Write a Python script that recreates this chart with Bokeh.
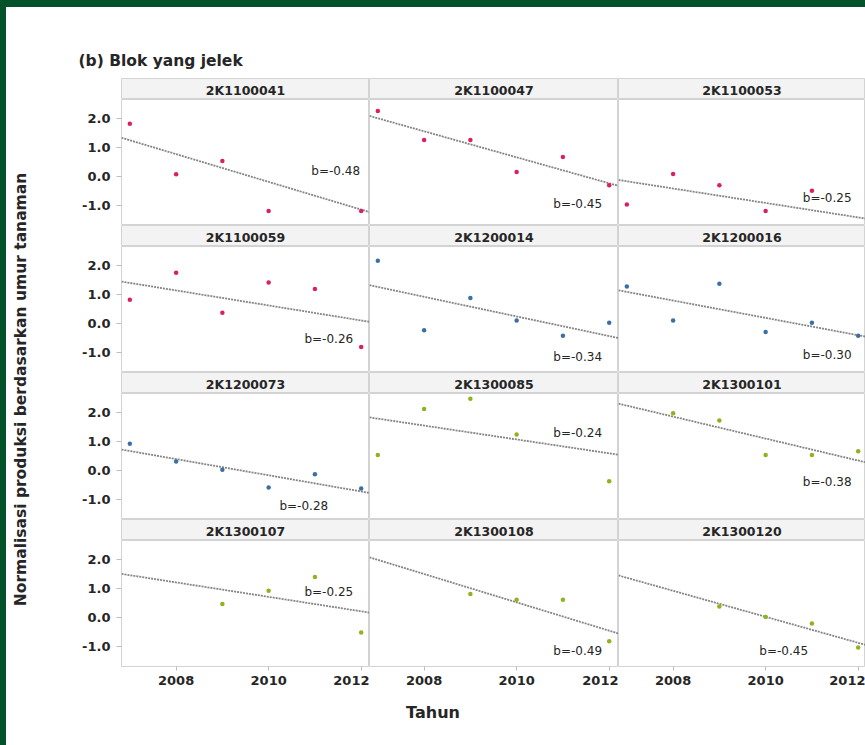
import math

from bokeh.embed import file_html
from bokeh.layouts import column, row
from bokeh.models import FixedTicker, Label, PrintfTickFormatter, Range1d
from bokeh.plotting import figure
from bokeh.resources import INLINE

# ---- data -----------------------------------------------------------------
panel_ids = [
    "2K1100041", "2K1100047", "2K1100053",
    "2K1100059", "2K1200014", "2K1200016",
    "2K1200073", "2K1300085", "2K1300101",
    "2K1300107", "2K1300108", "2K1300120",
]
# colour group of each block (by planting year)
panel_group = ["2011", "2011", "2011",
               "2011", "2012", "2012",
               "2012", "2013", "2013",
               "2013", "2013", "2013"]

years_41 = [2007, 2008, 2009, 2010, 2012]
vals_41 = [1.83, 0.08, 0.54, -1.19, -1.19]
years_47 = [2007, 2008, 2009, 2010, 2011, 2012]
vals_47 = [2.27, 1.27, 1.27, 0.16, 0.68, -0.30]
years_53 = [2007, 2008, 2009, 2010, 2011]
vals_53 = [-0.96, 0.09, -0.30, -1.19, -0.49]
years_59 = [2007, 2008, 2009, 2010, 2011, 2012]
vals_59 = [0.83, 1.76, 0.38, 1.42, 1.20, -0.81]
years_14 = [2007, 2008, 2009, 2010, 2011, 2012]
vals_14 = [2.18, -0.23, 0.89, 0.11, -0.42, 0.03]
years_16 = [2007, 2008, 2009, 2010, 2011, 2012]
vals_16 = [1.29, 0.11, 1.38, -0.29, 0.03, -0.42]
years_73 = [2007, 2008, 2009, 2010, 2011, 2012]
vals_73 = [0.93, 0.32, 0.03, -0.58, -0.12, -0.62]
years_85 = [2007, 2008, 2009, 2010, 2012]
vals_85 = [0.54, 2.13, 2.49, 1.25, -0.37]
years_101 = [2008, 2009, 2010, 2011, 2012]
vals_101 = [1.99, 1.74, 0.54, 0.54, 0.67]
years_107 = [2009, 2010, 2011, 2012]
vals_107 = [0.47, 0.93, 1.41, -0.51]
years_108 = [2009, 2010, 2011, 2012]
vals_108 = [0.82, 0.62, 0.62, -0.82]
years_120 = [2009, 2010, 2011, 2012]
vals_120 = [0.39, 0.02, -0.20, -1.03]

panel_years = [years_41, years_47, years_53, years_59, years_14, years_16,
               years_73, years_85, years_101, years_107, years_108, years_120]
panel_vals = [vals_41, vals_47, vals_53, vals_59, vals_14, vals_16,
              vals_73, vals_85, vals_101, vals_107, vals_108, vals_120]

# trend line of each block: slope b and fitted value in 2007
slopes = [-0.48, -0.45, -0.25, -0.26, -0.34, -0.30,
          -0.28, -0.24, -0.38, -0.25, -0.49, -0.45]
fit_2007 = [1.26, 2.02, -0.16, 1.41, 1.27, 1.10,
            0.68, 1.80, 2.25, 1.47, 2.00, 1.38]

year_ticks = [2008, 2010, 2012]
value_ticks = [-1.0, 0.0, 1.0, 2.0]

title_text = "(b) Blok yang jelek"
x_title = "Tahun"
y_title = "Normalisasi produksi berdasarkan umur tanaman"

# ---- layout & style -------------------------------------------------------
FONT = "DejaVu Sans"
TEXT = "#262626"
EDGE = "#d3d3d3"
STRIP_FILL = "#f3f3f3"
FRAME_GREEN = "#04522a"
group_colors = {"2011": "#dc1f62", "2012": "#3b6fa6", "2013": "#8db41f"}

PAGE_W = 865
EDGE_TOP = 7
EDGE_LEFT = 6
frame_widths = [248, 249, 247]
FRAME_H = 126
STRIP_H = 21
AXIS_W = 55
AXIS_H = 30
YLAB_W = 60
X_START = 2006.82
PX_PER_YEAR = 46.27
Y_RANGE = (-1.69, 2.67)

# placement of the "b=" annotation in each panel (year, value)
label_pos = [(2011.45, 0.20), (2011.32, -0.93), (2011.33, -0.73),
             (2011.30, -0.54), (2011.32, -1.16), (2011.33, -1.10),
             (2010.76, -1.24), (2011.32, 1.30), (2011.33, -0.39),
             (2011.30, 0.89), (2011.32, -1.17), (2010.39, -1.17)]


def blank(w, h):
    """Plain white canvas measured in pixels, y growing downward."""
    f = figure(width=w, height=h, output_backend="svg",
               toolbar_location=None, tools="", min_border=0,
               x_axis_location=None, y_axis_location=None,
               outline_line_color=None, background_fill_color="white",
               border_fill_color="white",
               x_range=Range1d(0, w), y_range=Range1d(h, 0))
    f.grid.visible = False
    return f


def strip(name, c):
    left = AXIS_W if c == 0 else 0
    f = figure(width=frame_widths[c] + left, height=STRIP_H, output_backend="svg",
               toolbar_location=None, tools="", min_border=0, min_border_left=left,
               x_axis_location=None, y_axis_location=None,
               background_fill_color=STRIP_FILL, border_fill_color="white",
               outline_line_color=EDGE, outline_line_width=1,
               x_range=Range1d(0, 1), y_range=Range1d(0, 1))
    f.grid.visible = False
    f.add_layout(Label(x=0.5, y=0.45, text=name, text_align="center",
                       text_baseline="middle", text_font=FONT,
                       text_font_size="12.5px", text_font_style="bold",
                       text_color=TEXT))
    return f


def panel(i, r, c):
    left = AXIS_W if c == 0 else 0
    bottom = AXIS_H if r == 3 else 0
    fw = frame_widths[c]
    x0, x1 = X_START, X_START + fw / PX_PER_YEAR
    p = figure(width=fw + left, height=FRAME_H + bottom, output_backend="svg",
               toolbar_location=None, tools="", min_border=0,
               min_border_left=left, min_border_bottom=bottom,
               x_axis_location="below" if r == 3 else None,
               y_axis_location="left" if c == 0 else None,
               x_range=Range1d(x0, x1), y_range=Range1d(*Y_RANGE),
               background_fill_color="white", border_fill_color="white",
               outline_line_color=EDGE, outline_line_width=1)
    p.grid.visible = False

    b = slopes[i]
    p.line([x0, x1], [fit_2007[i] + b * (x0 - 2007), fit_2007[i] + b * (x1 - 2007)],
           line_color="#858585", line_width=1.8, line_dash="2 1")
    p.scatter(panel_years[i], panel_vals[i], size=4.5, marker="circle",
              fill_color=group_colors[panel_group[i]], line_color=None)

    lx, ly = label_pos[i]
    p.add_layout(Label(x=lx, y=ly, text=f"b={b:.2f}", text_align="center",
                       text_baseline="middle", text_font=FONT,
                       text_font_size="12px", text_color=TEXT))

    for ax in p.axis:
        ax.axis_line_color = None
        ax.major_tick_in = 0
        ax.minor_tick_line_color = None
        ax.major_tick_line_color = "#bdbdbd"
        ax.major_label_text_font = FONT
        ax.major_label_text_font_size = "13px"
        ax.major_label_text_font_style = "bold"
        ax.major_label_text_color = TEXT
    if c == 0:
        p.yaxis.ticker = FixedTicker(ticks=value_ticks)
        p.yaxis.formatter = PrintfTickFormatter(format="%.1f")
        p.yaxis.major_tick_out = 5
        p.yaxis.major_label_standoff = 6
    if r == 3:
        p.xaxis.ticker = FixedTicker(ticks=year_ticks)
        p.xaxis.major_label_overrides = {t: str(t) for t in year_ticks}
        p.xaxis.major_tick_out = 4
        p.xaxis.major_label_standoff = 5
    return p


rows = []
for r in range(4):
    ids = range(r * 3, r * 3 + 3)
    rows.append(row([strip(panel_ids[i], i % 3) for i in ids], spacing=0))
    rows.append(row([panel(i, r, i % 3) for i in ids], spacing=0))
grid = column(rows, spacing=0)
grid_h = 4 * (STRIP_H + FRAME_H) + AXIS_H

inner_w = PAGE_W - EDGE_LEFT

header = blank(inner_w, 71)
header.add_layout(Label(x=72, y=53, text=title_text, text_align="left",
                        text_baseline="middle", text_font=FONT,
                        text_font_size="15.5px", text_font_style="bold",
                        text_color=TEXT))

ylab = blank(YLAB_W, grid_h)
ylab.add_layout(Label(x=14, y=311, text=y_title, angle=math.pi / 2,
                      text_align="center", text_baseline="middle", text_font=FONT,
                      text_font_size="15.5px", text_font_style="bold",
                      text_color=TEXT))

xlab = blank(inner_w, 49)
xlab.add_layout(Label(x=426.5, y=16, text=x_title, text_align="center",
                      text_baseline="middle", text_font=FONT,
                      text_font_size="16px", text_font_style="bold",
                      text_color=TEXT))

# white page with a dark green edge along its top and left sides
page = column([header, row([ylab, grid], spacing=0), xlab], spacing=0,
              styles={"background-color": "white",
                      "border-top": f"{EDGE_TOP}px solid {FRAME_GREEN}",
                      "border-left": f"{EDGE_LEFT}px solid {FRAME_GREEN}"})

with open("out.html", "w") as fh:
    fh.write(file_html(page, INLINE, title=title_text))
